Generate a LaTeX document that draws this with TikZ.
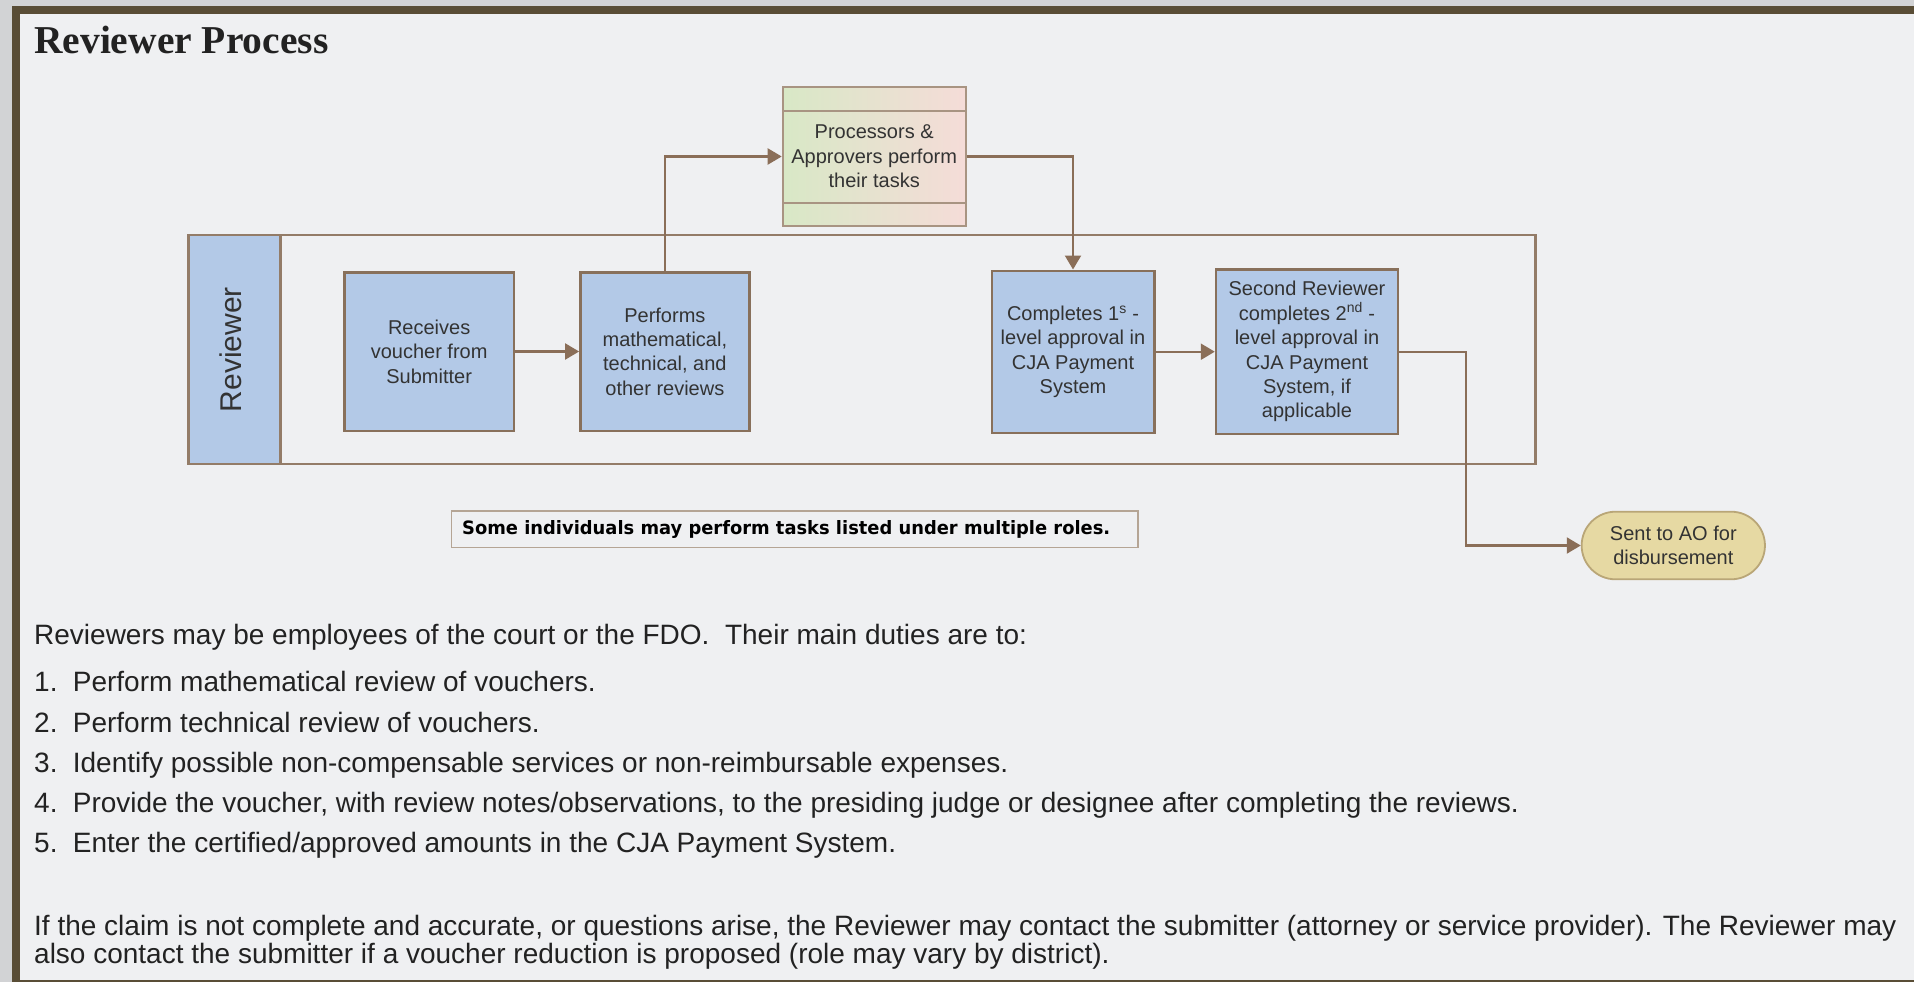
\documentclass[tikz,border=0pt]{standalone}
\usepackage{fontspec}
\setmainfont{Liberation Sans}
\newfontfamily\titlefont{Liberation Serif}
\newfontfamily\notefont{DejaVu Sans}
\usetikzlibrary{arrows.meta,shapes.misc,calc}
\definecolor{outergray}{HTML}{D2D3D5}
\definecolor{framebrown}{HTML}{594D36}
\definecolor{pagebg}{HTML}{EFF0F2}
\definecolor{boxblue}{HTML}{B3C9E7}
\definecolor{boxline}{HTML}{88705B}
\definecolor{arrowcol}{HTML}{8A6E58}
\definecolor{laneline}{HTML}{937C68}
\definecolor{termfill}{HTML}{E6D9A3}
\definecolor{termline}{HTML}{B9A677}
\definecolor{noteline}{HTML}{B5A595}
\definecolor{procgreen}{HTML}{D8E8C6}
\definecolor{procpink}{HTML}{F5DCD8}
\definecolor{procline}{HTML}{A89482}
\definecolor{bodytext}{HTML}{222222}
\definecolor{boxtext}{HTML}{333333}
\tikzset{
  taskbox/.style={draw=boxline, line width=2.4pt, fill=boxblue, text=boxtext,
    align=center, inner sep=0pt, font=\fontsize{20}{24.4}\selectfont},
  flow/.style={draw=arrowcol, line width=2.2pt, -{Triangle[length=14pt,width=16pt]}},
  bodyline/.style={anchor=base west, inner sep=0pt, text=bodytext, font=\fontsize{28}{33}\selectfont},
}
\begin{document}
\begin{tikzpicture}[x=1pt,y=-1pt]
\useasboundingbox (0,0) rectangle (1914,982);
% page frame
\fill[outergray] (0,0) rectangle (1914,982);
\fill[framebrown] (12,6) rectangle (1914,982);
\fill[pagebg] (20,14) rectangle (1914,980);
% title
\node[anchor=base west, inner sep=0pt, text=bodytext, font=\titlefont\bfseries\fontsize{39.5}{45}\selectfont] (title) at (34,53.3) {Reviewer Process};
% swimlane
\draw[laneline, line width=2.4pt] (188.4,235) rectangle (1535.6,464);
\node[draw=laneline, line width=2.4pt, fill=boxblue, minimum width=92.2pt, minimum height=229pt, inner sep=0pt] (lanehead) at (234.5,349.5) {};
\node[rotate=90, text=boxtext, font=\fontsize{30}{36}\selectfont, inner sep=0pt] (lanelabel) at (231,349.5) {Reviewer};
% processors box
\node[draw=procline, line width=2pt, left color=procgreen, right color=procpink, minimum width=183pt, minimum height=138.4pt, inner sep=0pt] (proc) at (874.2,156.5) {};
\draw[procline, line width=2pt] (782.7,111) -- (965.7,111);
\draw[procline, line width=2pt] (782.7,202.7) -- (965.7,202.7);
\node[text=boxtext, align=center, font=\fontsize{20}{24.4}\selectfont, inner sep=0pt] (proctext) at (874.2,156.5) {Processors \&\\Approvers perform\\their tasks};
% task boxes
\node[taskbox, minimum width=169.1pt, minimum height=158.4pt] (receive) at (429.15,351.5) {Receives\\voucher from\\Submitter};
\node[taskbox, minimum width=169.1pt, minimum height=158.4pt] (perform) at (664.85,351.5) {Performs\\mathematical,\\technical, and\\other reviews};
\node[taskbox, minimum width=162.6pt, minimum height=162pt] (first) at (1073,351.7) {Completes 1\textsuperscript{s} -\\level approval in\\CJA Payment\\System};
\node[taskbox, minimum width=182pt, minimum height=164.7pt] (second) at (1307,351.7) {Second Reviewer\\completes 2\textsuperscript{nd} -\\level approval in\\CJA Payment\\System, if\\applicable};
% terminal
\node[draw=termline, line width=1.8pt, fill=termfill, rounded rectangle, minimum width=183.3pt, minimum height=67.6pt, inner sep=0pt, text=boxtext, align=center, font=\fontsize{20}{24.4}\selectfont] (sent) at (1673.3,545.5) {Sent to AO for\\disbursement};
% note
\node[draw=noteline, line width=1.6pt, fill=pagebg, minimum width=686.4pt, minimum height=36.6pt, inner sep=0pt] (note) at (794.7,529) {};
\node[anchor=west, inner sep=0pt, text=black] (notetext) at (462,529) {\resizebox{648pt}{14pt}{\notefont\bfseries Some individuals may perform tasks listed under multiple roles.}};
% connectors
\coordinate (drop) at (1466,351.7);
\draw[flow] (receive) -- (perform);
\draw[flow] (perform.north) |- (proc.west);
\draw[flow] (proc.east) -| (first.north);
\draw[flow] (first) -- (second);
\draw[flow] (second.east) -- (drop) |- (sent.west);
% body text
\node[bodyline] (intro) at (34,644) {Reviewers may be employees of the court or the FDO.\ \ Their main duties are to:};
\node[bodyline] (item1) at (34,691.7) {\makebox[38.7pt][l]{1.}Perform mathematical review of vouchers.};
\node[bodyline] (item2) at (34,732) {\makebox[38.7pt][l]{2.}Perform technical review of vouchers.};
\node[bodyline] (item3) at (34,772.3) {\makebox[38.7pt][l]{3.}Identify possible non-compensable services or non-reimbursable expenses.};
\node[bodyline] (item4) at (34,812.6) {\makebox[38.7pt][l]{4.}Provide the voucher, with review notes/observations, to the presiding judge or designee after completing the reviews.};
\node[bodyline] (item5) at (34,852.9) {\makebox[38.7pt][l]{5.}Enter the certified/approved amounts in the CJA Payment System.};
\node[bodyline] (closing1) at (34,935.5) {If the claim is not complete and accurate, or questions arise, the Reviewer may contact the submitter (attorney or service provider). The Reviewer may};
\node[bodyline] (closing2) at (34,963) {also contact the submitter if a voucher reduction is proposed (role may vary by district).};
\end{tikzpicture}
\end{document}
